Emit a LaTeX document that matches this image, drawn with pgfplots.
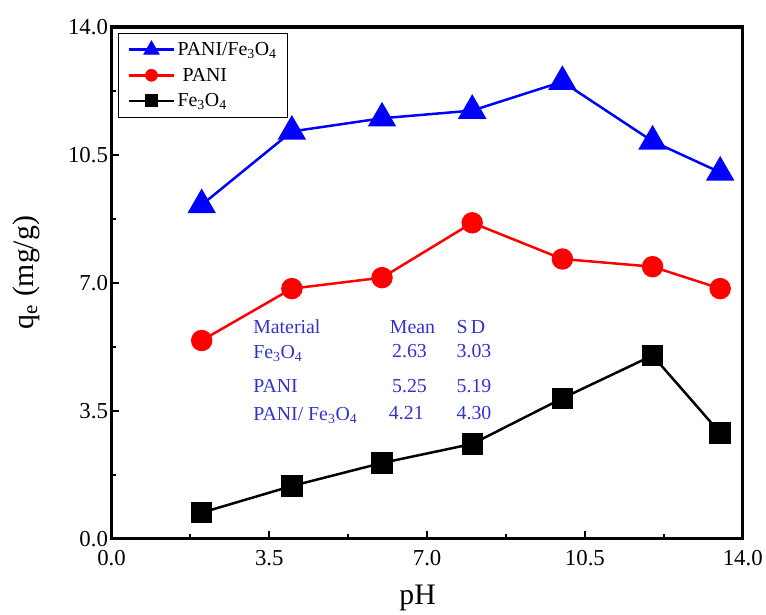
\documentclass[border=0pt]{standalone}
\usepackage{fontspec}
\setmainfont{Liberation Serif}
\usepackage{pgfplots}
\pgfplotsset{compat=1.18}
\newcommand{\feo}{Fe\textsubscript{3}O\textsubscript{4}}
\definecolor{tblue}{RGB}{51,51,204}
\begin{document}
\begin{tikzpicture}
\begin{axis}[
  scale only axis, width=634bp, height=514bp,
  xmin=0, xmax=14, ymin=0, ymax=14,
  xtick={0,3.5,7,10.5,14}, ytick={0,3.5,7,10.5,14},
  minor x tick num=1, minor y tick num=1,
  tick align=inside, xtick pos=left, ytick pos=left,
  major tick length=8bp, minor tick length=5bp,
  every tick/.style={black, line width=2bp},
  axis line style={line width=3.5bp},
  /pgf/number format/assume math mode=true,
  /pgf/number format/fixed, /pgf/number format/fixed zerofill, /pgf/number format/precision=1,
  tick label style={font=\fontsize{23}{25}\selectfont},
  xticklabel style={yshift=-8bp},
  xlabel={pH}, ylabel={q\textsubscript{e} (mg/g)},
  label style={font=\fontsize{30}{34}\selectfont},
  xlabel style={at={(axis description cs:0.485,-0.115)}, anchor=center},
  ylabel style={at={(axis description cs:-0.135,0.52)}, anchor=center},
  legend style={at={(axis description cs:0.01,0.988)}, anchor=north west, draw=black, line width=1bp,
     font=\fontsize{20}{22}\selectfont, row sep=7bp, inner xsep=9bp, inner ysep=7bp},
  legend cell align=left,
  legend image code/.code={\draw[mark repeat=2,mark phase=2,#1,line width=2.6bp,mark options={scale=0.62,line width=1bp}] plot coordinates {(0bp,0bp) (23bp,0bp) (46bp,0bp)};},
]
\addplot[color=blue, line width=2.5bp, mark=triangle*, mark size=14bp] coordinates {
 (2,9.13)(4,11.14)(6,11.50)(8,11.71)(10,12.50)(12,10.87)(13.5,10.02)};
\addlegendentry{PANI/\feo}
\addplot[color=red, line width=2.5bp, mark=*, mark size=9.5bp] coordinates {
 (2,5.42)(4,6.84)(6,7.14)(8,8.64)(10,7.65)(12,7.44)(13.5,6.84)};
\addlegendentry{\ PANI}
\addplot[color=black, line width=2.5bp, mark=square*, mark size=9.5bp] coordinates {
 (2,0.71)(4,1.44)(6,2.07)(8,2.59)(10,3.84)(12,5.01)(13.5,2.89)};
\addlegendentry{\feo}
\begin{scope}[every node/.style={anchor=west, text=tblue, font=\fontsize{20}{22}\selectfont, inner sep=0pt}]
\node at (axis cs:3.14,5.80) {Material};
\node at (axis cs:6.17,5.80) {Mean};
\node at (axis cs:7.65,5.80) {S\,D};
\node at (axis cs:3.14,5.07) {\feo};
\node at (axis cs:6.22,5.12) {2.63};
\node at (axis cs:7.65,5.12) {3.03};
\node at (axis cs:3.14,4.17) {PANI};
\node at (axis cs:6.22,4.17) {5.25};
\node at (axis cs:7.65,4.17) {5.19};
\node at (axis cs:3.14,3.38) {PANI/ \feo};
\node at (axis cs:6.15,3.43) {4.21};
\node at (axis cs:7.65,3.43) {4.30};
\end{scope}
\end{axis}
\path (-112bp,-76bp) rectangle (654bp,541bp);
\end{tikzpicture}
\end{document}
